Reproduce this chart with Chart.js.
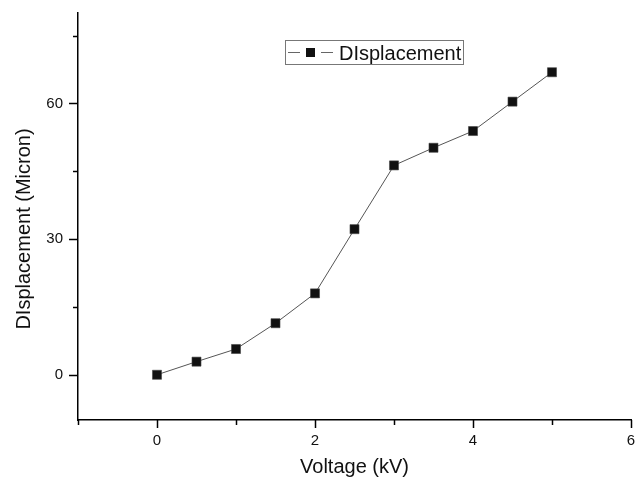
<!DOCTYPE html>
<html>
<head>
<meta charset="utf-8">
<script src="https://cdn.jsdelivr.net/npm/chart.js@4/dist/chart.umd.min.js"></script>
<style>
html,body{margin:0;padding:0;background:#fff;}
#wrap{width:642px;height:486px;position:relative;}
</style>
</head>
<body>
<div id="wrap"><canvas id="c" width="642" height="486"></canvas></div>
<script>
const voltage = [0, 0.5, 1, 1.5, 2, 2.5, 3, 3.5, 4, 4.5, 5];
const displacement = [0, 2.9, 5.7, 11.4, 18.0, 32.2, 46.3, 50.2, 53.9, 60.4, 66.9];
const xTicks = [-1, 0, 1, 2, 3, 4, 5, 6];
const xLabeled = [0, 2, 4, 6];
const yTicks = [0, 15, 30, 45, 60, 75];
const yLabeled = [0, 30, 60];
const seriesName = 'DIsplacement';
const xTitle = 'Voltage (kV)';
const yTitle = 'DIsplacement (Micron)';

const FONT = '"Liberation Sans", Arial, sans-serif';

const decor = {
  id: 'decor',
  afterDraw(chart) {
    const ctx = chart.ctx;
    const xs = chart.scales.x, ys = chart.scales.y;
    ctx.save();
    ctx.strokeStyle = '#000';
    ctx.lineWidth = 1.5;
    xTicks.forEach(v => {
      const px = Math.round(xs.getPixelForValue(v)) + 0.5;
      const len = xLabeled.includes(v) ? 8 : 5;
      ctx.beginPath(); ctx.moveTo(px, xs.top); ctx.lineTo(px, xs.top + len); ctx.stroke();
    });
    yTicks.forEach(v => {
      const py = Math.round(ys.getPixelForValue(v)) + 0.5;
      const len = yLabeled.includes(v) ? 9 : 5;
      ctx.beginPath(); ctx.moveTo(ys.right, py); ctx.lineTo(ys.right - len, py); ctx.stroke();
    });
    ctx.fillStyle = '#111';
    ctx.font = '20px ' + FONT;
    ctx.textAlign = 'center';
    ctx.textBaseline = 'middle';
    ctx.translate(24, 229);
    ctx.rotate(-Math.PI / 2);
    ctx.fillText(yTitle, 0, 0);
    ctx.restore();

    ctx.save();
    ctx.strokeStyle = '#777';
    ctx.lineWidth = 1;
    ctx.strokeRect(285.5, 40.5, 178, 24);
    ctx.strokeStyle = '#666';
    ctx.beginPath(); ctx.moveTo(288, 52.5); ctx.lineTo(300, 52.5); ctx.stroke();
    ctx.beginPath(); ctx.moveTo(321, 52.5); ctx.lineTo(333, 52.5); ctx.stroke();
    ctx.fillStyle = '#111';
    ctx.fillRect(306, 48, 9, 9);
    ctx.font = '20px ' + FONT;
    ctx.textAlign = 'left';
    ctx.textBaseline = 'alphabetic';
    ctx.fillText(seriesName, 339, 59.5);
    ctx.restore();
  }
};

new Chart(document.getElementById('c'), {
  type: 'line',
  data: {
    datasets: [{
      label: seriesName,
      data: voltage.map((v, i) => ({x: v, y: displacement[i]})),
      borderColor: '#555',
      borderWidth: 1,
      pointStyle: 'rect',
      pointRadius: 6.4,
      pointHoverRadius: 6.4,
      pointBackgroundColor: '#111',
      pointBorderColor: '#444',
      pointBorderWidth: 0.6,
      tension: 0,
      fill: false
    }]
  },
  plugins: [decor],
  options: {
    responsive: false,
    animation: false,
    events: [],
    layout: {padding: {top: 13, right: 11, left: 0, bottom: 0}},
    plugins: {legend: {display: false}, tooltip: {enabled: false}},
    scales: {
      x: {
        type: 'linear', min: -1, max: 6,
        afterBuildTicks: s => { s.ticks = xTicks.map(v => ({value: v})); },
        afterFit: s => { s.height = 66; s.paddingLeft = 0; s.paddingRight = 0; },
        grid: {display: false, drawTicks: false},
        border: {display: true, color: '#000', width: 1.5},
        ticks: {
          padding: 12, color: '#111', font: {family: FONT, size: 15},
          maxRotation: 0, autoSkip: false,
          callback: v => xLabeled.includes(v) ? String(v) : ''
        },
        title: {display: true, text: xTitle, color: '#111', font: {family: FONT, size: 20}, padding: {top: 0, bottom: 7}}
      },
      y: {
        type: 'linear', min: -10, max: 80,
        afterBuildTicks: s => { s.ticks = yTicks.map(v => ({value: v})); },
        afterFit: s => { s.width = 78; s.paddingTop = 0; s.paddingBottom = 0; },
        grid: {display: false, drawTicks: false},
        border: {display: true, color: '#000', width: 1.5},
        ticks: {
          padding: 15, color: '#111', font: {family: FONT, size: 15},
          autoSkip: false,
          callback: v => yLabeled.includes(v) ? String(v) : ''
        }
      }
    }
  }
});
</script>
</body>
</html>
